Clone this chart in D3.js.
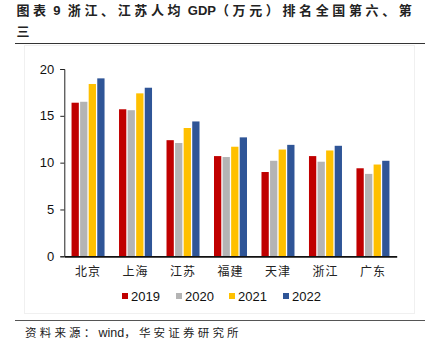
<!DOCTYPE html>
<html><head><meta charset="utf-8">
<script src="https://cdn.jsdelivr.net/npm/d3@7"></script>
<style>html,body{margin:0;padding:0;background:#fff;}</style>
</head><body>
<svg id="c" width="425" height="350"></svg>
<script>
const categories = ["北京","上海","江苏","福建","天津","浙江","广东"];
const years = ["2019","2020","2021","2022"];
const v2019 = [16.4,15.7,12.4,10.7,9.0,10.7,9.4];
const v2020 = [16.5,15.6,12.1,10.6,10.2,10.1,8.8];
const v2021 = [18.4,17.4,13.7,11.7,11.4,11.3,9.8];
const v2022 = [19.0,18.0,14.4,12.7,11.9,11.8,10.2];
const yTicks = [0,5,10,15,20];
const colors = ["#C00000","#B4B4B4","#FFC000","#2F5597"];
const series = [v2019,v2020,v2021,v2022];
const titleParts = [["图表",1],["\u00a09\u00a0\u00a0",0],["浙江、江苏人均",1],["\u00a0GDP",0],["（万元）排名全国第六、第",1]];

const svg = d3.select("#c");
const cjk = "'Noto Sans CJK SC', sans-serif";
const lat = "'Liberation Sans', Arial, sans-serif";

// title
const t1 = svg.append("text").attr("x",16.5).attr("y",14.5).attr("font-family",cjk).attr("font-weight","bold")
  .attr("font-size",13).attr("fill","#222");
const spans = titleParts.map(p => t1.append("tspan").text(p[0]).attr("font-family", p[1]?cjk:lat));
const w0 = t1.node().getComputedTextLength();
const nC = titleParts.filter(p=>p[1]).reduce((a,p)=>a+p[0].length,0);
const ls = Math.max(0,(399 - w0)/nC);
spans.forEach((s,i)=>{ if(titleParts[i][1]) s.attr("letter-spacing",ls); });
svg.append("text").attr("x",16.5).attr("y",35.5).attr("font-family",cjk).attr("font-weight","bold")
  .attr("font-size",13).attr("fill","#222").text("三");
svg.append("line").attr("x1",15).attr("x2",425).attr("y1",43.5).attr("y2",43.5).attr("stroke","#333").attr("stroke-width",1.2);

// chart frame (faint)
svg.append("rect").attr("x",24.5).attr("y",45.5).attr("width",390).attr("height",268)
  .attr("fill","none").attr("stroke","#f0f0f0");

const x0 = d3.scaleBand().domain(categories).range([64.3,396.7]).paddingInner(0).paddingOuter(0);
const y = d3.scaleLinear().domain([0,20]).range([256.3,69]);
const groupW = 33;
const x1 = d3.scaleBand().domain(years).range([0,groupW]).paddingInner(0.15);

const g = svg.append("g");
categories.forEach((c,i)=>{
  const cx = x0(c)+x0.bandwidth()/2 - groupW/2;
  series.forEach((s,k)=>{
    g.append("rect").attr("x",cx+x1(years[k])).attr("y",y(s[i]))
      .attr("width",x1.bandwidth()).attr("height",y(0)-y(s[i])).attr("fill",colors[k]);
  });
});

// y axis
const ya = svg.append("g").attr("transform","translate(64.3,0)")
  .call(d3.axisLeft(y).tickValues(yTicks).tickSize(4).tickPadding(6));
ya.select(".domain").attr("stroke","#222").attr("stroke-width",1);
ya.selectAll(".tick line").attr("stroke","#222");
ya.selectAll("text").attr("font-family",lat).attr("font-size",13).attr("fill","#111");

// x axis
const xa = svg.append("g").attr("transform","translate(0,256.3)")
  .call(d3.axisBottom(x0).tickSize(0).tickPadding(11));
xa.select(".domain").attr("stroke","#111").attr("stroke-width",1.8);
xa.selectAll("text").attr("font-family",cjk).attr("font-size",12).attr("fill","#222")
  .attr("letter-spacing",1);

// legend
const legX = [122,176,229,283];
years.forEach((yr,k)=>{
  svg.append("rect").attr("x",legX[k]).attr("y",293).attr("width",6).attr("height",6).attr("fill",colors[k]);
  svg.append("text").attr("x",legX[k]+9).attr("y",301).attr("font-family",lat).attr("font-size",13)
    .attr("fill","#111").text(yr);
});

// bottom line & source
svg.append("line").attr("x1",15).attr("x2",425).attr("y1",320.5).attr("y2",320.5).attr("stroke","#555").attr("stroke-width",1);
const src = svg.append("text").attr("x",25).attr("y",337).attr("font-size",11.5).attr("fill","#222");
src.append("tspan").attr("font-family",cjk).attr("letter-spacing",3.2).text("资料来源：");
src.append("tspan").attr("font-family",lat).attr("font-size",12.5).text("wind");
src.append("tspan").attr("font-family",cjk).attr("letter-spacing",3.2).text("，华安证券研究所");
</script>
</body></html>
